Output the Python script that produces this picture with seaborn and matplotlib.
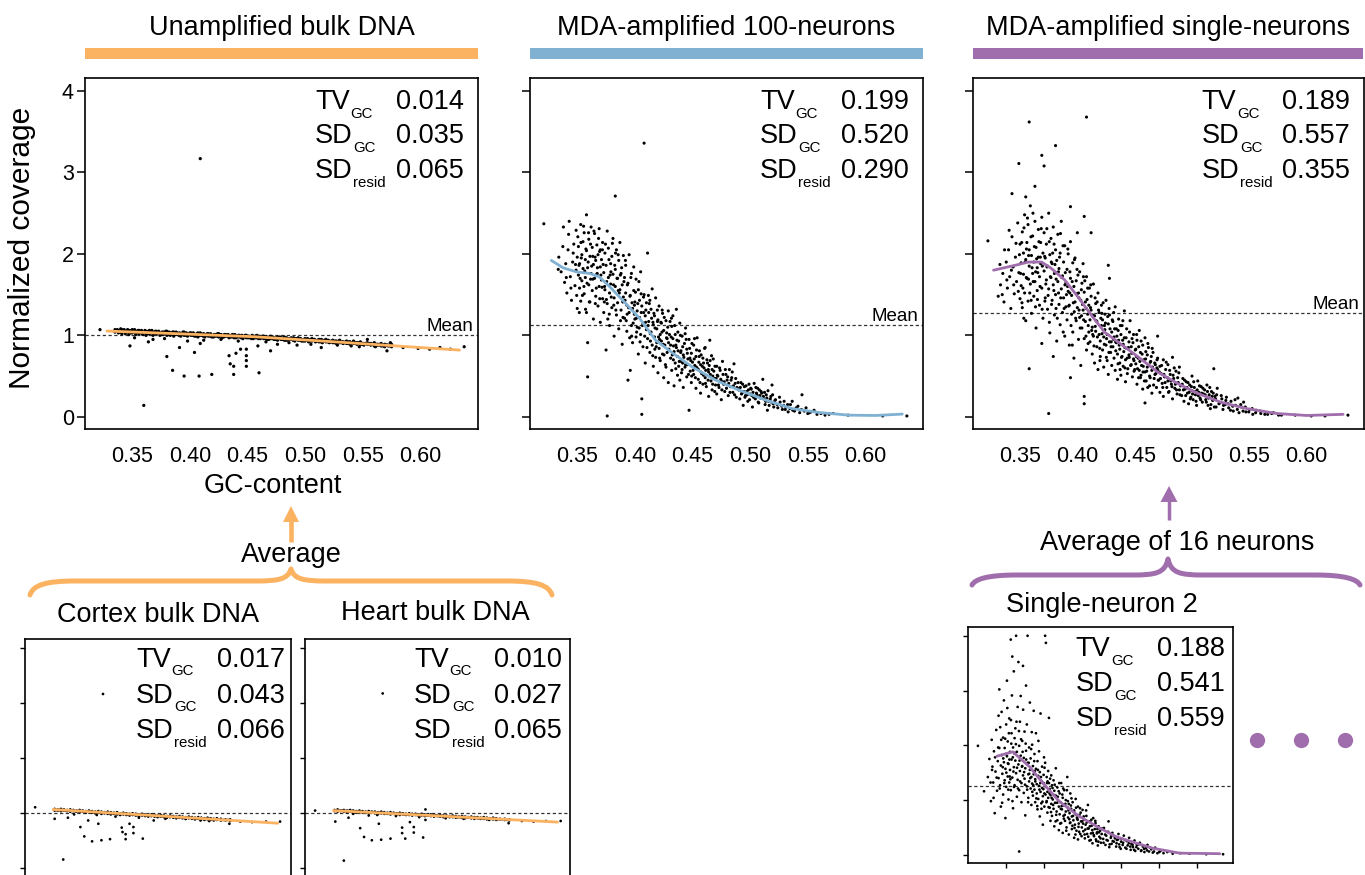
import numpy as np
import matplotlib
matplotlib.use("Agg")
import matplotlib.pyplot as plt
import seaborn as sns
from matplotlib.patches import Rectangle, PathPatch, Polygon
from matplotlib.path import Path
from matplotlib.lines import Line2D

# ---------------------------------------------------------------- data
# points: (GC-content in 1/1000, normalized coverage in 1/100)
panel_titles = ["Unamplified bulk DNA", "MDA-amplified 100-neurons", "MDA-amplified single-neurons"]
sub_titles = ["Cortex bulk DNA", "Heart bulk DNA", "Single-neuron 2"]
x_ticks = [0.35, 0.40, 0.45, 0.50, 0.55, 0.60]
x_tick_labels = ["0.35", "0.40", "0.45", "0.50", "0.55", "0.60"]
y_ticks = [0, 1, 2, 3, 4]
stat_names = [("TV", "GC"), ("SD", "GC"), ("SD", "resid")]

bulk_stats = ["0.014", "0.035", "0.065"]
mda100_stats = ["0.199", "0.520", "0.290"]
mdasc_stats = ["0.189", "0.557", "0.355"]
cortex_stats = ["0.017", "0.043", "0.066"]
heart_stats = ["0.010", "0.027", "0.065"]
sn2_stats = ["0.188", "0.541", "0.559"]

mean_bulk, mean_mda100, mean_mdasc = 1.0, 1.127, 1.27
mean_cortex, mean_heart, mean_sn2 = 1.0, 1.0, 1.25

# dense band of bulk bins: (gc, upper cov, lower cov)
bulk_band = [(335,107,104),(338,106,103),(341,107,102),(344,105,102),(347,106,101),(350,107,103),(353,105,101),
    (356,106,102),(359,104,101),(362,105,100),(365,106,102),(368,104,100),(371,105,102),(374,103,100),(377,104,101),
    (380,105,100),(383,103,100),(386,104,99),(389,103,101),(392,102,99),(395,104,100),(398,102,99),(401,103,100),
    (404,101,99),(407,103,98),(410,102,100),(413,101,98),(416,102,99),(419,100,98),(422,101,99),(425,102,98),
    (428,100,97),(431,101,99),(434,100,97),(437,101,98),(440,99,97),(443,100,98),(446,99,96),(449,100,97),
    (452,98,97),(455,99,96),(458,100,97),(461,98,96),(464,99,96),(467,98,95),(470,99,96),(473,97,95),(476,98,94),
    (479,97,95),(482,98,94),(485,96,94),(488,97,95),(491,96,93),(494,97,94),(497,95,93),(500,96,93),(503,95,92),
    (506,96,93),(509,94,92),(512,95,92),(515,94,91),(518,95,92),(521,93,91),(524,94,91),(527,93,90),(530,94,91),
    (533,92,90),(536,93,90),(539,92,89),(542,93,90),(545,91,89),(548,92,89),(551,90,88),(554,91,89),(557,90,88),
    (560,91,87),(563,89,88),(566,90,87),(569,89,86),(572,88,87),(575,89,86)]
bulk_band_mid = [(336.5,105),(339.5,104),(342.5,105),(345.5,104),(348.5,103),(351.5,104),(354.5,103),(357.5,104),
    (360.5,103),(363.5,102),(366.5,103),(369.5,102),(372.5,103),(375.5,101),(378.5,102),(381.5,101),(384.5,102),
    (387.5,101),(390.5,100),(393.5,101),(396.5,100),(399.5,101),(402.5,100),(405.5,99),(408.5,100),(411.5,99),
    (414.5,100),(417.5,99),(420.5,98),(423.5,99),(426.5,99),(429.5,98),(432.5,99),(435.5,98),(438.5,97),(441.5,98),
    (444.5,97),(447.5,98),(450.5,97),(453.5,96),(456.5,97),(459.5,96),(462.5,97),(465.5,96),(468.5,95),(471.5,96),
    (474.5,95),(477.5,96),(480.5,95),(483.5,94),(486.5,95),(489.5,94),(492.5,95),(495.5,94),(498.5,93),(501.5,94),
    (504.5,93),(507.5,94),(510.5,93),(513.5,92),(516.5,93),(519.5,92),(522.5,92),(525.5,91),(528.5,92),(531.5,91),
    (534.5,91),(537.5,90),(540.5,91),(543.5,90),(546.5,90),(549.5,89),(552.5,90),(555.5,89),(558.5,89),(561.5,88),
    (564.5,88),(567.5,87),(570.5,88),(573.5,87)]
bulk_band_top = [(337,107),(340,108),(343,107),(346,107),(349,106),(352,107),(355,106),(358,106),(361,106),
    (364,105),(367,106),(370,105),(373,105),(376,104),(379,105),(382,104),(385,104),(388,104),(391,103),(394,104),
    (397,103),(400,103),(403,103),(406,102),(409,103),(412,102),(415,102),(418,102),(421,101),(424,102),(427,101),
    (430,101),(433,101),(436,100),(439,101),(442,100),(445,100),(448,100),(451,99),(454,100),(457,99),(460,99),
    (463,99),(466,98),(469,98),(472,98),(475,97),(478,98),(481,97),(484,97),(487,96),(490,97),(493,96),(496,96),
    (499,95),(502,96),(505,95),(508,95),(511,94),(514,95),(517,94),(520,94),(523,93),(526,93),(529,93),(532,92),
    (535,92),(538,92),(541,91),(544,91),(547,91),(550,90),(553,90),(556,90),(559,89),(562,89),(565,89),(568,88),
    (571,88)]
bulk_points = [(322,107),(409,317),(360,14),(348,87),(380,74),(385,57),(395,50),(408,50),(419,52),(404,79),(391,85),
    (434,75),(435,65),(438,62),(438,52),(440,78),(444,83),(449,83),(449,75),(449,69),(449,62),(460,54),(470,81),
    (409,90),(364,92),(514,85),(571,81),(638,86),(617,85),(554,95),(574,91),(540,87),(561,86),(493,88),(476,89),
    (459,87),(352,97),(368,95),(378,96),(398,93),(412,94),(427,95),(442,93),(466,92),(486,91),(505,89),(528,88),
    (547,86),(585,85),(598,84),(608,83),(626,83)]
bulk_fit_gc = [0.328, 0.36, 0.40, 0.456, 0.50, 0.525, 0.58, 0.634]
bulk_fit_cov = [1.053, 1.036, 1.014, 0.983, 0.943, 0.921, 0.869, 0.819]

cortex_band = [(347,107,104),(351,106,104),(355,107,103),(359,106,104),(363,105,103),(367,106,102),(371,105,103),
    (375,104,102),(379,105,101),(383,104,102),(387,103,100),(391,104,101),(395,103,100),(399,102,99),(403,103,100),
    (407,102,98),(411,101,99),(415,102,98),(419,101,97),(423,100,98),(427,101,97),(431,99,96),(435,100,97),
    (439,99,96),(443,98,95),(447,99,96),(451,98,95),(455,97,94),(459,98,95),(463,97,94),(467,96,93),(471,97,94),
    (475,96,93),(479,95,92),(483,96,93),(487,95,92),(491,94,91),(495,95,92),(499,94,91),(503,93,90),(507,94,91),
    (511,93,90),(515,92,89),(519,93,90),(523,92,89),(527,91,88),(531,92,89),(535,91,88),(539,90,87),(543,91,88),
    (547,90,87),(551,89,86),(555,90,87),(560,89,86),(566,88,86),(572,88,85)]
cortex_band_mid = [(349,105),(353,105),(357,105),(361,104),(365,104),(369,104),(373,103),(377,103),(381,103),
    (385,102),(389,102),(393,102),(397,101),(401,101),(405,100),(409,100),(413,100),(417,99),(421,99),(425,99),
    (429,98),(433,98),(437,98),(441,97),(445,97),(449,97),(453,96),(457,96),(461,96),(465,95),(469,95),(473,95),
    (477,94),(481,94),(485,94),(489,93),(493,93),(497,93),(501,92),(505,92),(509,92),(513,91),(517,91),(521,91),
    (525,90),(529,90),(533,90),(537,89),(541,89),(545,89),(549,88),(553,88),(557,88),(563,87),(569,87)]
cortex_points = [(322,110),(409,316),(358,15),(347,89),(380,74),(385,57),(395,48),(407,50),(418,52),(433,73),(434,65),
    (438,61),(438,52),(443,80),(448,74),(448,63),(460,53),(403,80),(364,91),(390,86),(474,86),(515,89),(571,80),
    (618,84),(636,84),(534,86),(372,97),(401,96),(425,93),(455,91),(489,89),(545,85),(585,84),(600,83)]
cortex_fit_gc = [0.345, 0.49, 0.633]
cortex_fit_cov = [1.06, 0.935, 0.81]

heart_band = [(347,105,103),(351,106,102),(355,104,103),(359,105,102),(363,104,101),(367,105,102),(371,104,101),
    (375,103,100),(379,104,101),(383,103,100),(387,102,100),(391,103,99),(395,102,100),(399,102,99),(403,101,98),
    (407,102,99),(411,101,98),(415,100,98),(419,101,97),(423,100,98),(427,99,97),(431,100,96),(435,99,97),
    (439,98,96),(443,99,96),(447,98,95),(451,98,96),(455,97,95),(459,98,95),(463,97,94),(467,96,95),(471,97,94),
    (475,96,93),(479,95,94),(483,96,93),(487,95,92),(491,95,93),(495,94,92),(499,95,92),(503,94,91),(507,93,92),
    (511,94,91),(515,93,90),(519,92,91),(523,93,90),(527,92,89),(531,92,90),(535,91,89),(539,92,89),(543,91,88),
    (547,90,89),(551,91,88),(555,90,87),(560,89,88),(566,89,87),(572,88,86)]
heart_band_mid = [(349,104),(353,104),(357,104),(361,103),(365,103),(369,103),(373,102),(377,102),(381,102),
    (385,101),(389,101),(393,101),(397,101),(401,100),(405,100),(409,100),(413,99),(417,99),(421,99),(425,98),
    (429,98),(433,98),(437,97),(441,97),(445,97),(449,97),(453,96),(457,96),(461,96),(465,95),(469,95),(473,95),
    (477,95),(481,94),(485,94),(489,94),(493,93),(497,93),(501,93),(505,92),(509,92),(513,92),(517,92),(521,91),
    (525,91),(529,91),(533,90),(537,90),(541,90),(545,89),(549,89),(553,89),(557,88),(563,88),(569,87)]
heart_points = [(322,104),(409,317),(359,13),(348,84),(380,72),(385,56),(395,50),(407,51),(419,53),(434,73),(434,63),
    (438,53),(444,83),(449,74),(449,64),(461,55),(404,80),(365,91),(391,95),(464,87),(513,89),(571,81),(619,85),
    (638,85),(464,106),(371,98),(402,96),(426,94),(456,92),(490,90),(546,87),(588,85),(603,84)]
heart_fit_gc = [0.3455, 0.49, 0.634]
heart_fit_cov = [1.04, 0.936, 0.83]

mda100_points = [(321,237),(334,196),(336,178),(338,233),(339,165),(340,188),(341,152),(342,205),(343,240),(344,172),
    (345,143),(346,190),(347,212),(348,161),(349,229),(349,180),(350,133),(350,196),
    (351,174),(351,209),(352,158),(352,188),(353,236),(353,142),(354,199),(354,167),(355,182),(355,215),(356,151),
    (356,226),(357,193),(357,171),(358,248),(358,128),(358,204),(359,91),(359,49),(359,183),(360,162),(360,218),
    (361,141),(361,197),(362,233),(362,176),(363,155),(363,208),(364,187),(364,120),(365,170),(365,225),(366,192),
    (366,148),(367,211),(367,175),(368,136),(368,199),(369,160),(369,231),(370,184),(370,116),(370,205),
    (371,168),(371,193),(372,145),(372,214),(373,177),(373,128),(374,201),(374,156),(375,82),(375,186),(376,1),
    (376,228),(376,139),(377,171),(377,207),(378,152),(378,112),(379,188),(379,163),(380,134),(380,197),(381,175),
    (381,219),(382,146),(382,99),(383,271),(383,181),(383,160),(384,125),(384,205),(385,170),(385,140),(386,192),
    (386,108),(387,156),(387,214),(388,176),(388,131),(389,89),(389,162),(390,198),(390,147),
    (391,121),(391,171),(392,152),(392,186),(393,105),(393,137),(394,45),(394,164),(395,128),(395,199),(396,57),
    (396,149),(397,112),(397,176),(398,133),(398,91),(399,184),(399,155),(400,120),(400,141),(401,169),(401,98),
    (402,130),(402,110),(403,156),(403,77),(404,143),(404,122),(405,101),(405,178),(406,3),(406,22),(406,136),
    (407,115),(407,86),(408,336),(408,150),(409,124),(409,66),(410,107),(410,140),
    (411,201),(411,96),(412,128),(412,117),(413,79),(413,143),(414,104),(414,132),(415,88),(415,157),(416,113),
    (416,62),(417,98),(417,124),(418,146),(418,73),(419,108),(419,91),(420,119),(420,54),(421,136),(421,84),
    (422,101),(422,69),(423,115),(423,93),(424,127),(424,77),(425,48),(425,106),(426,88),(427,118),(427,61),
    (428,96),(428,79),(429,130),(429,42),(430,101),
    (431,72),(431,88),(432,111),(432,57),(433,96),(433,124),(434,80),(434,38),(435,66),(435,101),(436,132),(436,85),
    (437,51),(437,74),(438,93),(438,62),(439,115),(439,45),(440,81),(440,68),(441,99),(441,58),(442,76),(442,36),
    (443,90),(444,64),(444,109),(445,49),(445,83),(446,71),(447,8),(447,95),(448,56),(449,78),(449,42),(450,67),
    (451,88),(451,52),(452,63),(453,74),(453,35),(454,97),(455,58),(455,46),(456,81),(457,64),(457,29),(458,53),
    (459,72),(459,40),(460,60),(461,85),(461,48),(462,37),(463,66),(464,55),(464,25),(465,94),(466,44),(467,58),
    (467,33),(468,71),(469,47),(470,39),
    (471,62),(471,28),(472,50),(473,36),(474,57),(475,44),(475,21),(476,68),(477,40),(478,31),(479,52),(480,45),
    (481,26),(482,58),(483,37),(484,48),(485,30),(486,65),(487,41),(488,24),(489,35),
    (490,33),(491,22),(492,42),(493,29),(494,14),(495,37),(496,26),(497,31),(498,19),(499,40),(500,28),(501,34),
    (502,12),(503,24),(505,36),(506,27),(507,18),(508,33),(509,23),(510,29),
    (511,46),(512,22),(513,15),(514,27),(515,8),(516,19),(518,25),(519,39),(520,16),(522,21),(524,11),(526,18),
    (528,9),(529,14),(531,12),(533,6),(535,15),(537,8),(540,11),(543,5),(545,27),(547,7),(550,4),(553,6),(558,3),
    (565,2),(572,4),(585,2),(615,1),(636,1)]
mda100_points_b = [(333.5,181),(337.5,209),(340.5,171),(342.5,224),(344.5,158),(346.5,201),(348.5,187),(349.5,149),
    (350.5,221),(351.5,186),(352.5,170),(353.5,195),(354.5,149),(355.5,234),(356.5,179),(357.5,206),(358.5,164),
    (359.5,190),(360.5,141),(361.5,212),(362.5,185),(363.5,169),(364.5,228),(365.5,196),(366.5,158),(367.5,183),
    (368.5,219),(369.5,145),(370.5,174),
    (351.8,128),(353.2,214),(355.8,160),(357.2,132),(359.8,226),(361.6,169),(363.4,197),(365.7,139),(367.3,176),
    (369.4,203),
    (371.5,159),(372.5,187),(373.5,141),(374.5,212),(375.5,166),(376.5,120),(377.5,193),(378.5,174),(379.5,147),
    (380.5,213),(381.5,162),(382.5,186),(383.5,131),(384.5,170),(385.5,199),(386.5,152),(387.5,118),(388.5,183),
    (389.5,141),(390.5,166),
    (371.8,205),(373.7,160),(375.3,144),(377.8,126),(379.2,178),(381.7,137),(383.2,201),(385.6,155),(387.4,174),
    (389.7,122),
    (391.5,143),(392.5,118),(393.5,162),(394.5,134),(395.5,97),(396.5,171),(397.5,140),(398.5,115),(399.5,126),
    (400.5,153),(401.5,104),(402.5,139),(403.5,166),(404.5,92),(405.5,128),(406.5,112),(407.5,147),(408.5,99),
    (409.5,131),(410.5,85),
    (391.8,192),(393.3,126),(395.7,148),(397.2,99),(399.6,137),(401.3,121),(403.7,109),(405.4,151),(407.6,128),
    (409.3,116),
    (411.5,112),(412.5,139),(413.5,93),(414.5,121),(415.5,75),(416.5,127),(417.5,109),(418.5,86),(419.5,131),
    (420.5,98),(421.5,72),(422.5,116),(423.5,104),(424.5,89),(425.5,122),(426.5,64),(427.5,97),(428.5,110),
    (429.5,83),(430.5,117),
    (411.7,149),(413.4,102),(415.7,116),(417.3,83),(419.6,117),(421.4,95),(423.7,131),(425.3,76),(427.6,103),
    (429.2,91),
    (431.5,98),(432.5,76),(433.5,87),(434.5,112),(435.5,59),(436.5,94),(437.5,81),(438.5,68),(439.5,100),(440.5,54),
    (441.5,86),(442.5,73),(443.5,61),(444.5,95),(445.5,78),(446.5,52),(447.5,84),(448.5,69),(449.5,90),(450.5,57),
    (431.7,121),(433.4,70),(435.6,88),(437.3,104),(439.7,79),(441.4,66),(443.6,102),(445.2,64),(447.7,72),(449.3,50),
    (451.5,71),(452.5,48),(453.5,82),(454.5,59),(455.5,67),(456.5,42),(457.5,76),(458.5,62),(459.5,51),(460.5,84),
    (461.5,57),(462.5,70),(463.5,45),(464.5,63),(465.5,52),(466.5,75),(467.5,40),(468.5,56),(469.5,62),(470.5,47),
    (451.7,96),(453.4,61),(455.8,74),(457.3,55),(459.6,66),(461.3,41),(463.7,58),(465.3,69),(467.6,50),(469.3,31),
    (471.5,51),(472.5,39),(473.5,60),(474.5,46),(475.5,33),(476.5,52),(477.5,43),(478.5,58),(479.5,35),(480.5,49),
    (481.5,41),(482.5,30),(483.5,45),(484.5,55),(485.5,38),(486.5,27),(487.5,47),(488.5,36),(489.5,42),
    (491.5,36),(492.5,28),(493.5,40),(494.5,31),(495.5,24),(496.5,38),(497.5,27),(498.5,33),(499.5,21),(500.5,35),
    (501.5,26),(502.5,30),(503.5,41),(504.5,22),(505.5,29),(506.5,35),(507.5,17),(508.5,26),(509.5,31),
    (511.5,25),(512.5,30),(513.5,19),(514.5,23),(515.5,32),(516.5,14),(517.5,22),(518.5,18),(519.5,27),(520.5,12),
    (521.5,20),(523.5,15),(525.5,24),(527.5,13),(529.5,19),
    (530.5,9),(532.5,15),(534.5,10),(536.5,19),(538.5,7),(541.5,13),(544.5,9),(548.5,11),(551.5,5),(555.5,8),
    (561.5,4),(568.5,3)]
mda100_fit_gc = [0.3275, 0.3376, 0.349, 0.3607, 0.369, 0.378, 0.3895, 0.404, 0.418, 0.433, 0.450, 0.470,
                 0.490, 0.5135, 0.5366, 0.5596, 0.5856, 0.609, 0.632]
mda100_fit_cov = [1.92, 1.83, 1.78, 1.76, 1.72, 1.60, 1.43, 1.21, 0.94, 0.78, 0.61, 0.45,
                  0.33, 0.205, 0.10, 0.053, 0.02, 0.016, 0.033]

mdasc_points = [(322,216),(358,362),(408,368),(381,333),(369,321),(371,308),(349,311),(343,274),(363,283),(355,270),
    (358,59),(375,4),(406,25),(406,16),(636,2),(616,1),(394,258),(406,246),(412,226),(427,186),(428,170),(394,48),
    (379,74),(369,90),(459,17),(519,59),(470,99),
    (331,148),(333,162),(335,176),(336,141),(338,190),(339,158),(340,205),(341,172),(342,133),(343,221),(344,184),
    (345,151),(346,196),(347,166),(348,238),(349,177),(350,145),(350,212),
    (351,189),(351,161),(352,227),(352,134),(353,201),(353,175),(354,248),(354,152),(355,193),(355,118),(356,214),
    (356,170),(357,236),(357,142),(358,185),(358,205),(359,163),(359,259),(360,127),(360,198),(361,176),(361,222),
    (362,148),(362,190),(363,240),(363,166),(364,109),(364,208),(365,183),(365,155),(366,230),(366,196),(367,137),
    (367,172),(368,214),(368,188),(369,158),(369,245),(370,121),(370,201),
    (371,179),(371,226),(372,146),(372,195),(373,168),(373,212),(374,132),(374,185),(375,250),(375,157),(376,199),
    (376,103),(377,171),(377,219),(378,143),(378,188),(379,162),(379,233),(380,125),(380,176),(381,205),(381,150),
    (382,93),(382,192),(383,166),(383,224),(384,138),(384,182),(385,113),(385,201),(386,157),(386,240),(387,173),
    (387,128),(388,190),(388,146),(389,210),(389,99),(390,164),(390,135),
    (391,181),(391,119),(392,154),(392,200),(393,137),(393,88),(394,170),(394,215),(395,126),(395,149),(396,189),
    (396,104),(397,160),(397,72),(398,141),(398,195),(399,118),(399,167),(400,134),(400,226),(401,95),(401,152),
    (402,178),(402,122),(403,143),(403,63),(404,164),(404,109),(405,131),(405,188),(406,153),(406,96),(407,117),
    (407,141),(408,172),(408,82),(409,126),(409,158),(410,104),(410,137),
    (411,119),(411,92),(412,148),(412,131),(413,77),(413,110),(414,163),(414,99),(415,124),(415,66),(416,139),
    (416,105),(417,86),(417,117),(418,152),(418,58),(419,101),(419,128),(420,93),(420,74),(421,137),(421,112),
    (422,82),(422,119),(423,61),(423,98),(424,126),(424,107),(425,88),(425,143),(426,69),(426,101),(427,114),
    (427,52),(428,92),(428,125),(429,79),(430,104),(430,63),
    (431,117),(431,86),(432,72),(432,98),(433,135),(433,57),(434,91),(434,108),(435,77),(435,46),(436,120),(436,94),
    (437,66),(437,83),(438,101),(438,51),(439,112),(439,74),(440,89),(440,62),(441,130),(441,97),(442,70),(442,43),
    (443,84),(443,108),(444,59),(445,92),(445,76),(446,118),(447,64),(447,86),(448,49),(449,101),(449,71),(450,58),
    (451,83),(451,65),(452,40),(452,94),(453,72),(454,57),(454,106),(455,79),(455,48),(456,63),(457,88),(457,34),
    (458,70),(459,55),(459,97),(460,44),(461,76),(461,61),(462,85),(463,50),(463,38),(464,68),(465,57),(465,29),
    (466,79),(467,47),(468,64),(469,36),(470,58),(470,72),
    (471,45),(472,62),(472,30),(473,53),(474,41),(475,70),(475,25),(476,49),(477,58),(478,36),(479,64),(479,44),
    (480,31),(481,52),(482,40),(483,73),(483,22),(484,47),(485,35),(486,56),(487,28),(488,42),(489,61),(489,33),
    (490,38),(491,26),(492,47),(493,19),(494,34),(495,43),(496,29),(497,16),(498,39),(499,24),(500,50),(500,32),
    (501,21),(502,36),(503,27),(504,14),(505,44),(506,30),(507,23),(508,37),(509,18),(510,28),
    (511,33),(512,21),(513,39),(514,14),(515,27),(516,10),(517,31),(518,20),(520,25),(521,12),(522,35),(524,17),
    (526,22),(527,9),(529,15),(530,24),(532,11),(534,19),(536,7),(538,14),(540,23),(541,5),(543,12),(545,18),
    (547,6),(550,9),(553,3),(556,8),(560,4),(566,3),(571,5),(578,2),(590,2),(604,1)]
mdasc_points_b = [(332.5,187),(334.5,150),(336.5,205),(338.5,168),(340.5,229),(342.5,180),(344.5,162),(346.5,213),
    (348.5,154),(349.5,199),
    (350.5,176),(351.5,214),(352.5,158),(353.5,232),(354.5,190),(355.5,171),(356.5,244),(357.5,198),(358.5,152),
    (359.5,221),(360.5,183),(361.5,166),(362.5,209),(363.5,135),(364.5,194),(365.5,177),(366.5,215),(367.5,160),
    (368.5,231),(369.5,185),
    (351.7,140),(353.3,121),(355.6,206),(357.4,169),(359.7,143),(361.3,250),(363.6,178),(365.2,144),(367.7,196),
    (369.3,132),
    (371.5,197),(372.5,163),(373.5,184),(374.5,149),(375.5,215),(376.5,172),(377.5,138),(378.5,201),(379.5,155),
    (380.5,187),(381.5,169),(382.5,121),(383.5,178),(384.5,196),(385.5,146),(386.5,171),(387.5,210),(388.5,133),
    (389.5,177),(390.5,150),
    (371.7,142),(373.4,231),(375.6,116),(377.3,190),(379.7,212),(381.4,133),(383.6,152),(385.3,225),(387.7,104),
    (389.2,162),
    (391.5,160),(392.5,136),(393.5,178),(394.5,112),(395.5,166),(396.5,140),(397.5,193),(398.5,121),(399.5,151),
    (400.5,174),(401.5,131),(402.5,109),(403.5,156),(404.5,138),(405.5,119),(406.5,167),(407.5,99),(408.5,144),
    (409.5,112),(410.5,158),
    (391.7,206),(393.4,152),(395.6,88),(397.3,129),(399.7,181),(401.4,146),(403.6,124),(405.3,172),(407.7,133),
    (409.4,90),
    (411.5,134),(412.5,106),(413.5,125),(414.5,87),(415.5,146),(416.5,118),(417.5,98),(418.5,131),(419.5,84),
    (420.5,121),(421.5,102),(422.5,140),(423.5,89),(424.5,115),(425.5,96),(426.5,123),(427.5,79),(428.5,108),
    (429.5,92),(430.5,119),
    (411.7,162),(413.4,101),(415.6,111),(417.3,141),(419.7,69),(421.4,127),(423.6,112),(425.3,73),(427.7,133),
    (429.4,86),
    (431.5,95),(432.5,108),(433.5,81),(434.5,99),(435.5,65),(436.5,88),(437.5,112),(438.5,73),(439.5,94),(440.5,80),
    (441.5,60),(442.5,97),(443.5,72),(444.5,85),(445.5,104),(446.5,63),(447.5,78),(448.5,91),(449.5,56),(450.5,82),
    (431.7,128),(433.4,92),(435.6,106),(437.3,58),(439.7,118),(441.4,85),(443.6,53),(445.3,73),(447.7,96),(449.4,69),
    (451.5,74),(452.5,59),(453.5,86),(454.5,68),(455.5,51),(456.5,77),(457.5,62),(458.5,44),(459.5,71),(460.5,56),
    (461.5,90),(462.5,63),(463.5,48),(464.5,74),(465.5,61),(466.5,39),(467.5,66),(468.5,53),(469.5,70),(470.5,45),
    (451.7,101),(453.4,48),(455.6,93),(457.3,55),(459.7,80),(461.4,36),(463.6,67),(465.3,84),(467.7,52),(469.4,60),
    (471.5,55),(472.5,47),(473.5,63),(474.5,36),(475.5,52),(476.5,42),(477.5,67),(478.5,48),(479.5,30),(480.5,57),
    (481.5,44),(482.5,37),(483.5,51),(484.5,60),(485.5,40),(486.5,33),(487.5,48),(488.5,54),(489.5,27),
    (491.5,40),(492.5,33),(493.5,45),(494.5,26),(495.5,36),(496.5,42),(497.5,30),(498.5,22),(499.5,37),(500.5,28),
    (501.5,43),(502.5,31),(503.5,19),(504.5,33),(505.5,26),(506.5,38),(507.5,21),(508.5,29),(509.5,35),
    (511.5,27),(512.5,18),(513.5,31),(514.5,23),(515.5,36),(516.5,15),(517.5,25),(518.5,29),(519.5,12),(520.5,22),
    (521.5,27),(523.5,16),(525.5,26),(527.5,14),(529.5,20),
    (531.5,16),(533.5,8),(535.5,13),(537.5,21),(539.5,9),(542.5,15),(544.5,7),(546.5,12),(549.5,6),(552.5,10),
    (555.5,5),(559.5,7),(563.5,3),(569.5,4),(575.5,2)]
mdasc_fit_gc = [0.3269, 0.3457, 0.3572, 0.3688, 0.3775, 0.389, 0.4006, 0.4121, 0.4237, 0.4382, 0.4526, 0.47,
                0.4873, 0.5046, 0.5249, 0.548, 0.574, 0.60, 0.6318]
mdasc_fit_cov = [1.80, 1.86, 1.90, 1.90, 1.82, 1.68, 1.47, 1.25, 1.04, 0.89, 0.74, 0.55,
                 0.41, 0.29, 0.18, 0.10, 0.04, 0.016, 0.03]

sn2_points = [(313,199),(321,116),(326,142),(328,175),(330,98),(331,210),(332,161),(333,132),(334,189),(335,76),
    (336,152),(337,228),(338,117),(339,171),(340,254),(340,140),
    (341,302),(341,195),(342,127),(343,163),(343,88),(344,261),(344,182),(345,148),(346,214),(346,110),(347,169),
    (347,282),(348,136),(348,195),(349,157),(349,67),(350,238),(350,124),(351,180),(351,318),(352,143),(352,207),
    (353,101),(353,166),(354,249),(354,132),(355,188),(355,155),(356,393),(356,118),(357,222),(357,174),(358,362),
    (358,141),(359,196),(359,85),(360,335),(360,160),
    (361,127),(361,213),(362,231),(362,172),(363,400),(363,149),(364,106),(364,188),(365,270),(365,137),(366,352),
    (366,165),(367,199),(367,118),(367,6),(368,153),(368,243),(369,290),(369,181),(370,131),(370,96),(371,208),
    (371,162),(372,345),(372,145),(373,177),(373,113),(374,225),(374,139),(375,158),(375,72),(376,309),(376,190),
    (377,238),(377,125),(378,400),(378,168),(379,147),(379,104),(380,196),(380,134),
    (381,278),(381,155),(382,121),(382,176),(383,91),(383,142),(384,201),(384,130),(385,162),(385,108),(386,263),
    (386,147),(387,119),(387,184),(388,96),(388,138),(389,222),(389,157),(390,112),(390,129),(391,83),(391,171),
    (392,144),(392,102),(393,126),(393,189),(394,70),(394,151),(395,258),(395,115),(396,135),(396,94),(397,161),
    (397,122),(398,107),(398,55),(399,146),(399,131),(400,88),(400,112),
    (401,400),(401,168),(402,387),(402,124),(403,98),(403,142),(404,77),(404,115),(405,153),(405,104),(406,250),
    (406,131),(407,86),(407,120),(408,62),(408,109),(409,145),(409,93),(410,127),(410,71),(411,101),(412,136),
    (412,84),(413,117),(413,52),(414,95),(415,158),(415,108),(416,79),(417,123),(417,63),(418,99),(419,88),(419,45),
    (420,112),(420,74),
    (421,96),(422,131),(422,58),(423,83),(424,104),(424,40),(425,71),(426,118),(426,90),(427,62),(428,79),(428,100),
    (429,50),(430,142),(430,87),(431,68),(432,93),(432,37),(433,76),(434,112),(434,59),(435,84),(436,47),(436,70),
    (437,96),(438,63),(439,81),(439,31),(440,55),(441,74),(441,102),(442,44),(443,66),(444,88),(444,28),(445,57),
    (446,73),(447,38),(448,61),(449,50),
    (450,82),(451,43),(452,64),(453,30),(454,55),(455,71),(456,38),(457,91),(458,48),(459,26),(460,60),(461,39),
    (462,53),(463,21),(464,67),(465,34),(466,47),(467,58),(468,25),(469,41),(470,17),(471,52),(472,33),(473,44),
    (474,22),(475,38),(477,29),(478,49),(480,18),(481,35),(483,26),(484,61),(485,14),(487,31),(488,20),(489,40),
    (491,24),(492,33),(494,15),(495,27),(497,38),(498,19),(500,11),(501,29),(503,22),(504,35),(506,13),(508,25),
    (509,17),(511,31),(513,9),(514,20),(516,14),(518,26),(519,7),(521,18),(523,11),(525,22),(527,8),(529,15),
    (531,5),(533,12),(535,18),(537,6),(540,10),(542,4),(545,13),(548,3),(552,7),(556,3),(561,5),(568,2),(578,3),
    (590,2),(612,1),(634,1)]
sn2_points_b = [(329.5,132),(331.5,155),(333.5,104),(335.5,178),(337.5,141),(339.5,196),(341.5,121),(343.5,210),
    (345.5,160),(347.5,131),(349.5,184),
    (342.2,233),(344.7,95),(346.2,176),(348.7,212),(350.2,150),(352.7,119),(354.2,174),(356.7,203),(358.2,98),
    (360.7,185),
    (351.5,268),(353.5,222),(355.5,138),(357.5,291),(359.5,152),(361.5,186),(363.5,243),(365.5,121),(367.5,172),
    (369.5,211),
    (352.2,167),(354.7,143),(356.2,246),(358.7,178),(360.2,124),(362.7,202),(364.2,159),(366.7,226),(368.2,134),
    (370.7,161),
    (371.5,188),(373.5,151),(375.5,203),(377.5,119),(379.5,168),(381.5,140),(383.5,224),(385.5,127),(387.5,153),
    (389.5,103),
    (372.2,265),(374.7,128),(376.2,174),(378.7,96),(380.2,148),(382.7,193),(384.2,115),(386.7,171),(388.2,134),
    (390.7,89),
    (391.5,155),(393.5,119),(395.5,142),(397.5,97),(399.5,178),(401.5,110),(403.5,131),(405.5,87),(407.5,139),
    (409.5,104),
    (392.2,208),(394.7,131),(396.2,84),(398.7,120),(400.2,159),(402.7,96),(404.2,134),(406.7,112),(408.7,78),
    (410.7,122),
    (411.5,91),(413.5,128),(415.5,73),(417.5,106),(419.5,131),(421.5,84),(423.5,110),(425.5,66),(427.5,93),
    (429.5,118),
    (412.7,109),(414.7,61),(416.7,95),(418.7,116),(420.7,57),(422.7,89),(424.7,121),(426.7,73),(428.7,44),(430.7,98),
    (431.5,81),(433.5,58),(435.5,103),(437.5,71),(439.5,49),(441.5,86),(443.5,64),(445.5,42),(447.5,77),(449.5,61),
    (432.7,65),(434.7,90),(436.7,53),(438.7,79),(440.7,37),(442.7,68),(444.7,51),(446.7,85),(448.7,34),(450.7,57),
    (451.5,70),(453.5,46),(455.5,59),(457.5,33),(459.5,52),(461.5,64),(463.5,40),(465.5,55),(467.5,28),(469.5,47),
    (452.7,37),(454.7,81),(456.7,48),(458.7,61),(460.7,27),(462.7,45),(464.7,36),(466.7,62),(468.7,39),(470.7,24),
    (471.5,41),(473.5,30),(475.5,48),(477.5,22),(479.5,37),(481.5,27),(483.5,42),(485.5,19),(487.5,34),(489.5,25),
    (492.5,30),(494.5,21),(496.5,28),(498.5,14),(500.5,24),(502.5,18),(505.5,27),(507.5,11),(510.5,21),(512.5,15),
    (515.5,18),(517.5,9),(520.5,14),(523.5,19),(526.5,7),(530.5,11),(534.5,8),(538.5,13),(543.5,6),(550.5,5)]
sn2_fit_gc = [0.3377, 0.3587, 0.3805, 0.398, 0.4199, 0.446, 0.4723, 0.494, 0.5073, 0.542, 0.577, 0.6296]
sn2_fit_cov = [1.80, 1.88, 1.61, 1.31, 0.97, 0.70, 0.49, 0.33, 0.27, 0.12, 0.03, 0.02]

ORANGE, BLUE, PURPLE = "#FBB362", "#80B1D3", "#A06DAD"

# ---------------------------------------------------------------- style
sns.set_theme(style="ticks", rc={"axes.edgecolor": "black", "xtick.color": "black", "ytick.color": "black",
                                 "text.color": "black", "axes.labelcolor": "black"})
plt.rcParams["font.family"] = ["Liberation Sans", "DejaVu Sans"]

W, H = 1365, 875
fig = plt.figure(figsize=(W / 100, H / 100), dpi=100, facecolor="white")


def fx(x):
    return x / W


def fy(y):
    return 1 - y / H


def add_ax(l, t, r, b):
    return fig.add_axes([l / W, 1 - b / H, (r - l) / W, (b - t) / H])


def unpack(point_lists, band=None):
    gc, cov = [], []
    for pts in point_lists:
        gc += [p[0] for p in pts]
        cov += [p[1] for p in pts]
    if band is not None:
        gc = [b[0] for b in band] * 2 + gc
        cov = [b[1] for b in band] + [b[2] for b in band] + cov
    return np.array(gc) / 1000.0, np.array(cov) / 100.0


def panel(ax, gc, cov, fit_gc, fit_cov, color, mean, xlim, dot):
    sns.scatterplot(x=gc, y=cov, ax=ax, s=dot, color="black", linewidth=0, edgecolor="none",
                    legend=False, zorder=2)
    sns.lineplot(x=fit_gc, y=fit_cov, ax=ax, color=color, linewidth=2.0, zorder=3,
                 sort=False, estimator=None)
    ax.axhline(mean, color="#333333", lw=0.9, ls=(0, (2.6, 2.0)), zorder=1)
    ax.set_xlim(*xlim)
    ax.set_ylim(-0.15, 4.16)
    ax.set_xlabel("")
    ax.set_ylabel("")
    ax.set_facecolor("white")
    for sp in ax.spines.values():
        sp.set_visible(True)
        sp.set_linewidth(1.2)
        sp.set_color("black")
    ax.set_yticks(y_ticks)
    ax.set_xticks(x_ticks)


def stats(ax, xl, xv, ys, vals):
    for (main, sub), y, v in zip(stat_names, ys, vals):
        t = ax.text(xl, y, main, transform=ax.transAxes, fontsize=19.5, ha="left", va="baseline")
        ax.annotate(sub, xy=(1, 0), xycoords=t, xytext=(0.5, -1.8), textcoords="offset points",
                    fontsize=10.8, ha="left", va="baseline")
        ax.text(xv, y, v, transform=ax.transAxes, fontsize=19.5, ha="left", va="baseline")


def mean_label(ax, mean):
    ax.text(0.988, mean, "Mean", transform=ax.get_yaxis_transform(), ha="right", va="bottom",
            fontsize=13.5)


# ---------------------------------------------------------------- top row
ax1 = add_ax(85, 78, 478, 429)
ax2 = add_ax(530, 78, 923, 429)
ax3 = add_ax(973, 78, 1364, 429)
top_xlim = (0.309, 0.650)

gc, cov = unpack([bulk_points, bulk_band_mid, bulk_band_top], bulk_band)
panel(ax1, gc, cov, bulk_fit_gc, bulk_fit_cov, ORANGE, mean_bulk, top_xlim, 5.5)
gc, cov = unpack([mda100_points, mda100_points_b])
panel(ax2, gc, cov, mda100_fit_gc, mda100_fit_cov, BLUE, mean_mda100, top_xlim, 5.0)
gc, cov = unpack([mdasc_points, mdasc_points_b])
panel(ax3, gc, cov, mdasc_fit_gc, mdasc_fit_cov, PURPLE, mean_mdasc, top_xlim, 5.0)

for i, (ax, st, mean) in enumerate([(ax1, bulk_stats, mean_bulk), (ax2, mda100_stats, mean_mda100),
                                     (ax3, mdasc_stats, mean_mdasc)]):
    ax.set_xticklabels(x_tick_labels)
    ax.tick_params(axis="x", length=0, labelsize=15.5, pad=12.5)
    ax.tick_params(axis="y", length=5.5, width=1.1, labelsize=15.5, pad=2.5, labelleft=(i == 0))
    stats(ax, 0.585, 0.791, [0.911, 0.814, 0.714], st)
    mean_label(ax, mean)

ax1.set_yticklabels([str(v) for v in y_ticks])

# titles and colour bars
for ax, title, col in zip([ax1, ax2, ax3], panel_titles, [ORANGE, BLUE, PURPLE]):
    bb = ax.get_position()
    fig.text((bb.x0 + bb.x1) / 2, fy(35), title, ha="center", va="baseline", fontsize=19.5)
    fig.add_artist(Rectangle((bb.x0, fy(59)), min(bb.width, fx(1363) - bb.x0), 11 / H,
                             transform=fig.transFigure, color=col, lw=0))

fig.text(fx(273), fy(493), "GC-content", ha="center", va="baseline", fontsize=19.5)
fig.text(fx(22.5), fy(248), "Normalized coverage", ha="center", va="center", rotation=90, fontsize=21.5)

# ---------------------------------------------------------------- bottom row
axc = add_ax(25, 639, 291, 876)
axh = add_ax(305, 639, 570, 876)
axs = add_ax(968, 627, 1233, 863)

gc, cov = unpack([cortex_points, cortex_band_mid], cortex_band)
panel(axc, gc, cov, cortex_fit_gc, cortex_fit_cov, ORANGE, mean_cortex, top_xlim, 3.8)
gc, cov = unpack([heart_points, heart_band_mid], heart_band)
panel(axh, gc, cov, heart_fit_gc, heart_fit_cov, ORANGE, mean_heart, top_xlim, 3.8)
gc, cov = unpack([sn2_points, sn2_points_b])
panel(axs, gc, cov, sn2_fit_gc, sn2_fit_cov, PURPLE, mean_sn2, (0.300, 0.647), 3.8)

for ax in (axc, axh):
    ax.tick_params(axis="y", length=3.8, width=1.0, labelleft=False)
    ax.tick_params(axis="x", length=0, labelbottom=False)
axs.tick_params(axis="both", length=3.8, width=1.0, labelleft=False, labelbottom=False)

stats(axc, 0.417, 0.721, [0.883, 0.731, 0.581], cortex_stats)
stats(axh, 0.411, 0.713, [0.883, 0.731, 0.581], heart_stats)
stats(axs, 0.407, 0.715, [0.875, 0.727, 0.579], sn2_stats)

fig.text(fx(158), fy(621.5), sub_titles[0], ha="center", va="baseline", fontsize=19.5)
fig.text(fx(435), fy(620), sub_titles[1], ha="center", va="baseline", fontsize=19.5)
fig.text(fx(1102), fy(611.5), sub_titles[2], ha="center", va="baseline", fontsize=19.5)
fig.text(fx(291), fy(561.5), "Average", ha="center", va="baseline", fontsize=19.5)
fig.text(fx(1177), fy(550), "Average of 16 neurons", ha="center", va="baseline", fontsize=19.5)


# ---------------------------------------------------------------- braces, arrows, dots
def brace(x0, xm, x1, yt, yf, ym, color):
    pts = [(x0, yt), (x0 + 3, yf + 4), (x0 + 16, yf), (x0 + 45, yf),
           (xm - 35, yf),
           (xm - 12, yf), (xm - 3, yf - 2), (xm, ym),
           (xm + 3, yf - 2), (xm + 12, yf), (xm + 35, yf),
           (x1 - 45, yf),
           (x1 - 16, yf), (x1 - 3, yf + 4), (x1, yt)]
    codes = [Path.MOVETO, Path.CURVE4, Path.CURVE4, Path.CURVE4, Path.LINETO,
             Path.CURVE4, Path.CURVE4, Path.CURVE4, Path.CURVE4, Path.CURVE4, Path.CURVE4,
             Path.LINETO, Path.CURVE4, Path.CURVE4, Path.CURVE4]
    verts = [(fx(x), fy(y)) for x, y in pts]
    fig.add_artist(PathPatch(Path(verts, codes), transform=fig.transFigure, fill=False,
                             edgecolor=color, lw=3.6, capstyle="round", joinstyle="round"))


def arrow(x, y_tail, y_tip, head_len, head_w, lw, color):
    fig.add_artist(Line2D([fx(x), fx(x)], [fy(y_tail), fy(y_tip + head_len - 1)],
                          transform=fig.transFigure, color=color, lw=lw, solid_capstyle="butt"))
    fig.add_artist(Polygon([(fx(x - head_w / 2), fy(y_tip + head_len)), (fx(x + head_w / 2), fy(y_tip + head_len)),
                            (fx(x), fy(y_tip))], closed=True, transform=fig.transFigure, color=color, lw=0))


brace(30, 291, 552, 595, 581, 569, ORANGE)
brace(972, 1168, 1360, 585, 575, 559, PURPLE)
arrow(291, 542, 506, 16, 16, 3.3, ORANGE)
arrow(1169, 520, 486, 16, 17, 2.5, PURPLE)
fig.add_artist(Line2D([fx(1257), fx(1301), fx(1345)], [fy(740)] * 3, transform=fig.transFigure,
                      ls="none", marker="o", markersize=11, color=PURPLE, markeredgewidth=0))

fig.savefig("out.png", dpi=100, facecolor="white")
